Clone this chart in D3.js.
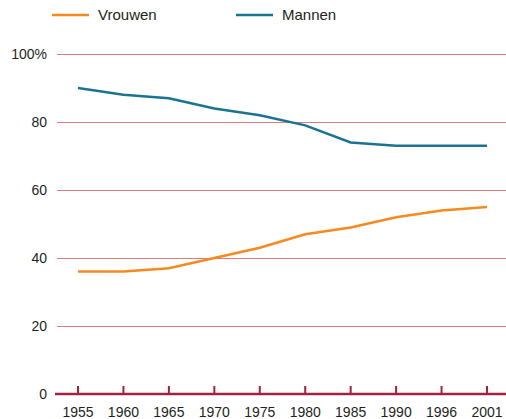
<!DOCTYPE html>
<html>
<head>
<meta charset="utf-8">
<script src="https://cdn.jsdelivr.net/npm/d3@7"></script>
<style>
  body { margin: 0; background: #fff; }
  text { font-family: "Liberation Sans", Arial, sans-serif; fill: #231f20; }
</style>
</head>
<body>
<svg id="chart" width="506" height="419"></svg>
<script>
var years = ["1955", "1960", "1965", "1970", "1975", "1980", "1985", "1990", "1996", "2001"];
var vrouwen = [36, 36, 37, 40, 43, 47, 49, 52, 54, 55];
var mannen = [90, 88, 87, 84, 82, 79, 74, 73, 73, 73];
var yTicks = [0, 20, 40, 60, 80, 100];

var series = [
  { name: "Vrouwen", values: vrouwen, color: "#f7891f" },
  { name: "Mannen", values: mannen, color: "#1b7392" }
];

var svg = d3.select("#chart");

var x = d3.scalePoint()
    .domain(years)
    .range([78, 487]);

var y = d3.scaleLinear()
    .domain([0, 100])
    .range([394, 54]);

// gridlines
svg.append("g")
  .selectAll("line")
  .data(yTicks.filter(function(d) { return d > 0; }))
  .join("line")
    .attr("x1", 57)
    .attr("x2", 506)
    .attr("y1", function(d) { return y(d) + 0.5; })
    .attr("y2", function(d) { return y(d) + 0.5; })
    .attr("stroke", "#e07a7a")
    .attr("stroke-width", 1);

// y labels
svg.append("g")
  .selectAll("text")
  .data(yTicks)
  .join("text")
    .attr("x", 47)
    .attr("y", function(d) { return y(d); })
    .attr("dy", "0.35em")
    .attr("text-anchor", "end")
    .attr("font-size", 14)
    .text(function(d) { return d === 100 ? "100%" : d; });

// lines
var line = d3.line()
    .x(function(d, i) { return x(years[i]); })
    .y(function(d) { return y(d); });

svg.append("g")
  .selectAll("path")
  .data(series)
  .join("path")
    .attr("d", function(d) { return line(d.values); })
    .attr("fill", "none")
    .attr("stroke", function(d) { return d.color; })
    .attr("stroke-width", 2.5);

// x axis
var axisColor = "#a3213f";
svg.append("line")
    .attr("x1", 55)
    .attr("x2", 506)
    .attr("y1", y(0))
    .attr("y2", y(0))
    .attr("stroke", axisColor)
    .attr("stroke-width", 2.5);

svg.append("g")
  .selectAll("line")
  .data(years)
  .join("line")
    .attr("x1", function(d) { return x(d); })
    .attr("x2", function(d) { return x(d); })
    .attr("y1", y(0))
    .attr("y2", y(0) - 8)
    .attr("stroke", axisColor)
    .attr("stroke-width", 2);

svg.append("g")
  .selectAll("text")
  .data(years)
  .join("text")
    .attr("x", function(d) { return x(d); })
    .attr("y", 417)
    .attr("text-anchor", "middle")
    .attr("font-size", 14)
    .text(function(d) { return d; });

// legend
var legend = svg.append("g")
  .selectAll("g")
  .data(series)
  .join("g")
    .attr("transform", function(d, i) { return "translate(" + (52 + i * 184) + ",15)"; });

legend.append("line")
    .attr("x1", 0)
    .attr("x2", 37)
    .attr("stroke", function(d) { return d.color; })
    .attr("stroke-width", 2.5);

legend.append("text")
    .attr("x", 46)
    .attr("dy", "0.35em")
    .attr("font-size", 15)
    .text(function(d) { return d.name; });
</script>
</body>
</html>
